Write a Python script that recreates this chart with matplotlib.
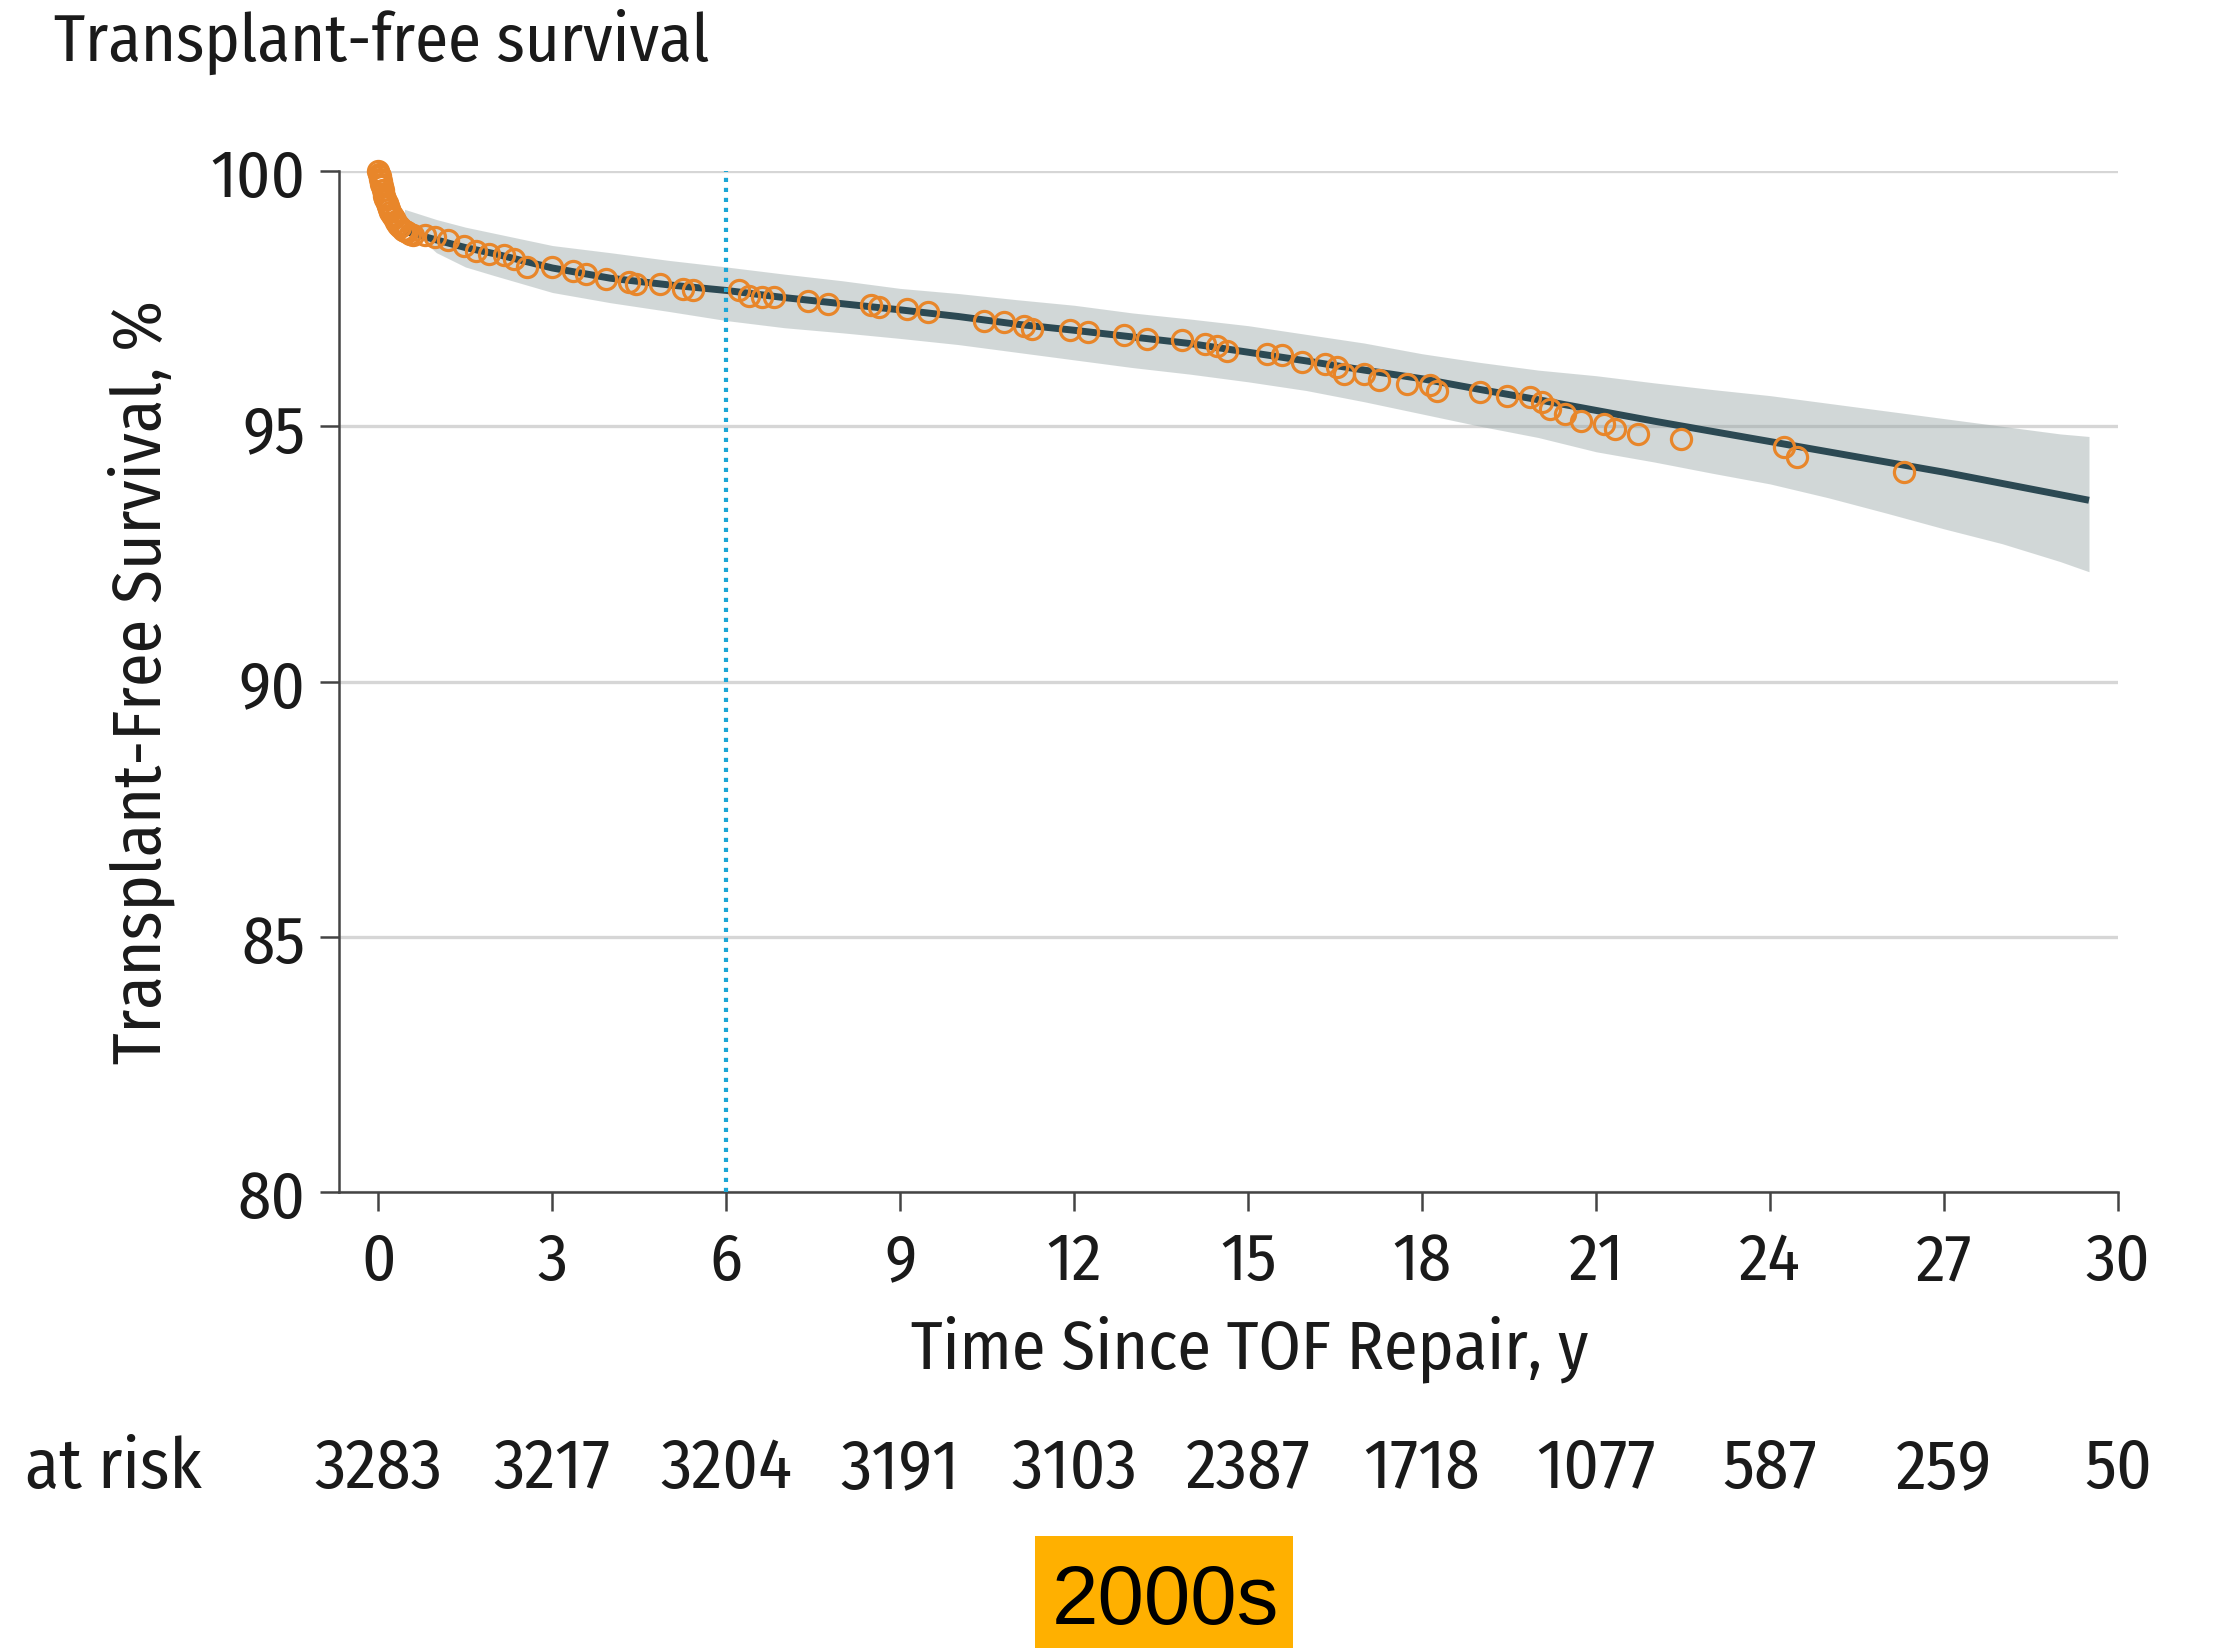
import matplotlib
matplotlib.use("Agg")
import matplotlib.pyplot as plt
from matplotlib.patches import Rectangle
from matplotlib.transforms import blended_transform_factory

plt.rcParams['font.family'] = ['Fira Sans Condensed', 'DejaVu Sans']

# fitted transplant-free survival curve with its confidence band
fit_x = [0.45, 1.0, 1.5, 2, 3, 4, 5, 6, 7, 8, 9, 10, 11, 12, 13, 14, 15,
         16, 17, 18, 19, 20, 21, 22, 23, 24, 25, 26, 27, 28, 29, 29.5]
fit_y = [98.82, 98.65, 98.5, 98.38, 98.1, 97.9, 97.77, 97.66, 97.52, 97.4,
         97.28, 97.15, 97.0, 96.88, 96.75, 96.62, 96.45, 96.28, 96.1, 95.93,
         95.72, 95.52, 95.31, 95.1, 94.9, 94.7, 94.5, 94.3, 94.1, 93.88,
         93.66, 93.55]
band_hi = [99.25, 99.05, 98.9, 98.78, 98.54, 98.4, 98.25, 98.12, 97.98,
           97.85, 97.7, 97.6, 97.48, 97.37, 97.22, 97.1, 96.97, 96.8, 96.63,
           96.42, 96.25, 96.1, 95.99, 95.85, 95.72, 95.6, 95.45, 95.3, 95.15,
           95.0, 94.85, 94.8]
band_lo = [98.95, 98.4, 98.12, 97.95, 97.62, 97.42, 97.25, 97.07, 96.93,
           96.83, 96.72, 96.6, 96.45, 96.3, 96.15, 96.02, 95.87, 95.7, 95.48,
           95.24, 95.0, 94.78, 94.5, 94.3, 94.08, 93.87, 93.6, 93.3, 92.99,
           92.7, 92.35, 92.15]

# Kaplan-Meier estimates
km_x = [0.0, 0.01, 0.02, 0.03, 0.04, 0.05, 0.06, 0.08, 0.1, 0.12, 0.14,
        0.16, 0.18, 0.2, 0.23, 0.26, 0.3, 0.34, 0.38, 0.42, 0.46, 0.5, 0.55,
        0.6, 0.81, 0.98, 1.2, 1.47, 1.68, 1.9, 2.17, 2.34, 2.56, 3.0, 3.36,
        3.58, 3.93, 4.32, 4.45, 4.85, 5.25, 5.42, 6.21, 6.39, 6.61, 6.83,
        7.4, 7.75, 8.5, 8.63, 9.11, 9.47, 10.44, 10.79, 11.14, 11.27, 11.93,
        12.24, 12.85, 13.26, 13.86, 14.26, 14.46, 14.63, 15.32, 15.59, 15.93,
        16.33, 16.53, 16.66, 16.99, 17.26, 17.73, 18.13, 18.26, 19.0, 19.46,
        19.86, 20.07, 20.2, 20.47, 20.74, 21.13, 21.33, 21.73, 22.47, 24.24,
        24.47, 26.31]
km_y = [100.0, 99.95, 99.9, 99.85, 99.8, 99.75, 99.7, 99.62, 99.52, 99.45,
        99.38, 99.32, 99.26, 99.2, 99.13, 99.07, 99.0, 98.95, 98.9, 98.85,
        98.82, 98.8, 98.77, 98.74, 98.74, 98.71, 98.64, 98.54, 98.44, 98.38,
        98.35, 98.28, 98.12, 98.12, 98.05, 97.99, 97.89, 97.82, 97.79, 97.79,
        97.69, 97.66, 97.66, 97.56, 97.53, 97.53, 97.46, 97.4, 97.37, 97.34,
        97.3, 97.24, 97.07, 97.04, 96.97, 96.91, 96.88, 96.84, 96.78, 96.71,
        96.68, 96.62, 96.58, 96.48, 96.42, 96.39, 96.26, 96.22, 96.16, 96.03,
        96.03, 95.9, 95.83, 95.8, 95.7, 95.67, 95.6, 95.57, 95.47, 95.34,
        95.24, 95.11, 95.05, 94.95, 94.85, 94.75, 94.59, 94.4, 94.1]

xticks = [0, 3, 6, 9, 12, 15, 18, 21, 24, 27, 30]
yticks = [80, 85, 90, 95, 100]
at_risk = [3283, 3217, 3204, 3191, 3103, 2387, 1718, 1077, 587, 259, 50]
landmark = 6

W, H = 2214, 1649
fig = plt.figure(figsize=(W / 100, H / 100), dpi=100)
ax = fig.add_axes([339 / W, 1 - 1193 / H, (2118 - 339) / W, (1193 - 172) / H])

ax.fill_between(fit_x, band_lo, band_hi, color='#98a6a6', alpha=0.44,
                linewidth=0, zorder=3)
ax.plot(fit_x, fit_y, color='#2c4953', linewidth=5.0, zorder=4,
        solid_capstyle='butt')
ax.plot(km_x, km_y, linestyle='none', marker='o', markersize=14.5,
        markerfacecolor='none', markeredgecolor='#e8862a',
        markeredgewidth=2.3, zorder=5, clip_on=False)
ax.axvline(landmark, color='#1ba6d6', linestyle=(0, (1, 1.4)),
           linewidth=3.0, zorder=6)

ax.set_xlim(-0.68, 30)
ax.set_ylim(80, 100)
ax.set_xticks(xticks)
ax.set_yticks(yticks)
ax.yaxis.grid(True, color='#d6d6d6', linewidth=2.4, zorder=1)
ax.set_axisbelow(True)
for s in ['top', 'right']:
    ax.spines[s].set_visible(False)
for s in ['left', 'bottom']:
    ax.spines[s].set_color('#444444')
    ax.spines[s].set_linewidth(1.8)
ax.tick_params(axis='both', direction='out', length=14, width=1.8,
               color='#444444', labelsize=48, labelcolor='#1a1a1a')
ax.tick_params(axis='x', pad=13)
ax.tick_params(axis='y', pad=10)

fig.text(54 / W, 1 - 42 / H, 'Transplant-free survival', fontsize=48,
         color='#1a1a1a', ha='left', va='center')
fig.text(141 / W, 1 - 682 / H, 'Transplant-Free Survival, %', fontsize=49,
         color='#1a1a1a', rotation=90, ha='center', va='center')
fig.text(1250 / W, 1 - 1349 / H, 'Time Since TOF Repair, y', fontsize=49,
         color='#1a1a1a', ha='center', va='center')

# number at risk row under the x axis
tr = blended_transform_factory(ax.transData, fig.transFigure)
for x, n in zip(xticks, at_risk):
    ax.text(x, 1 - 1469 / H, str(n), transform=tr, fontsize=50,
            color='#1a1a1a', ha='center', va='center')
fig.text(202 / W, 1 - 1469 / H, 'at risk', fontsize=50,
         color='#1a1a1a', ha='right', va='center')

# era tag
fig.patches.append(Rectangle((1035 / W, 0), (1293 - 1035) / W, 112 / H,
                             transform=fig.transFigure, facecolor='#ffb000',
                             edgecolor='none'))
fig.text(1165 / W, 1 - 1602 / H, '2000s', fontsize=60, color='black',
         family=['Liberation Sans', 'DejaVu Sans'], ha='center', va='center')

fig.savefig('out.png', dpi=100)
plt.close()
